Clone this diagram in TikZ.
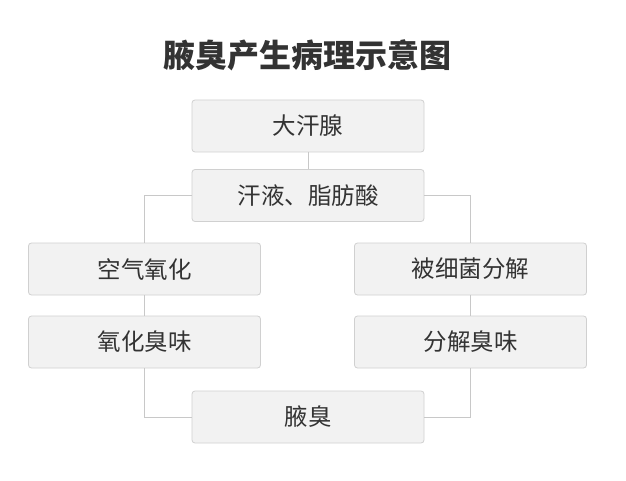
\documentclass[tikz,border=0pt]{standalone}
\usepackage{fontspec}
\setmainfont{Noto Sans CJK SC}
\definecolor{boxfill}{RGB}{242,242,242}
\definecolor{boxline}{RGB}{208,208,208}
\definecolor{linkline}{RGB}{200,200,200}
\definecolor{textdark}{RGB}{51,51,51}
\usetikzlibrary{positioning}

\begin{document}
\begin{tikzpicture}[x=1pt, y=-1pt,
    stagebox/.style={draw=boxline, fill=boxfill, rounded corners=3pt, line width=0.8pt,
        minimum width=232pt, minimum height=52pt, inner sep=0pt,
        text=textdark, font=\fontsize{23.5}{27}\selectfont},
    link/.style={draw=linkline, line width=0.9pt}]
        \useasboundingbox[fill=white] (0,0) rectangle (626,481);

        % Title
        \node[text=textdark, font=\fontsize{32}{37}\selectfont\bfseries] (title) at (307,55) {腋臭产生病理示意图};

        % Stages
        \node[stagebox] (gland) at (308,126) {大汗腺};
        \node[stagebox] (sweat) at (308,195.5) {汗液、脂肪酸};
        \node[stagebox] (oxair) at (144.5,269) {空气氧化};
        \node[stagebox] (oxsmell) at (144.5,342) {氧化臭味};
        \node[stagebox] (bact) at (470.5,269) {被细菌分解};
        \node[stagebox] (decsmell) at (470.5,342) {分解臭味};
        \node[stagebox] (odor) at (308,417) {腋臭};

        % Connectors
        \draw[link] (gland) -- (sweat);
        \draw[link] (sweat.west) -| (oxair.north);
        \draw[link] (sweat.east) -| (bact.north);
        \draw[link] (oxair) -- (oxsmell);
        \draw[link] (bact) -- (decsmell);
        \draw[link] (oxsmell.south) |- (odor.west);
        \draw[link] (decsmell.south) |- (odor.east);
    \end{tikzpicture}
\end{document}
